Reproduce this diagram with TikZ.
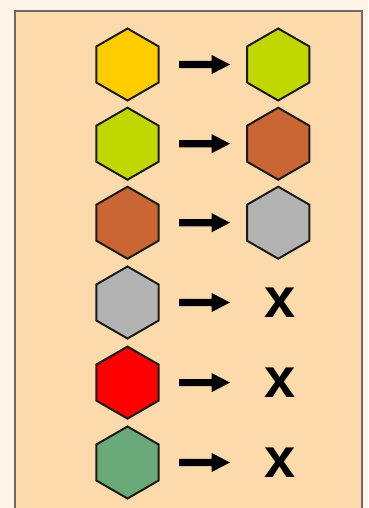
\documentclass[tikz,border=0pt]{standalone}
\usepackage{fontspec}
\setmainfont{Liberation Sans}
\usetikzlibrary{calc}
\definecolor{outerbg}{HTML}{FEF4E7}
\definecolor{panel}{HTML}{FDDAAB}
\definecolor{panelborder}{HTML}{6F6A66}
\definecolor{hexline}{HTML}{1A1A1A}
\definecolor{cyellow}{HTML}{FFCC00}
\definecolor{clime}{HTML}{C0D800}
\definecolor{cbrown}{HTML}{C96633}
\definecolor{cgray}{HTML}{B3B3B3}
\definecolor{cred}{HTML}{FF0000}
\definecolor{cgreen}{HTML}{69AA78}
\tikzset{
  hexa/.style={draw=hexline, line width=2pt, line join=miter, fill=#1},
  arrowfill/.style={fill=black},
  xmark/.style={inner sep=0pt, font=\fontsize{56}{56}\selectfont\bfseries}
}
\newcommand{\hexat}[2]{% name, colour
  \path[hexa=#2] ([shift={(90:36)}]#1) -- ([shift={(150:36)}]#1) -- ([shift={(210:36)}]#1)
   -- ([shift={(270:36)}]#1) -- ([shift={(330:36)}]#1) -- ([shift={(30:36)}]#1) -- cycle;}
\newcommand{\fatarrow}[2]{% from, to
  \fill[arrowfill] ($(#1)+(0,-3.6)$) -- ($(#2)+(-18.5,-3.6)$) -- ($(#2)+(-18.5,-9.6)$) -- (#2)
   -- ($(#2)+(-18.5,9.6)$) -- ($(#2)+(-18.5,3.6)$) -- ($(#1)+(0,3.6)$) -- cycle;}
\begin{document}
\begin{tikzpicture}[x=1pt,y=-1pt]
\useasboundingbox (0,0) rectangle (368,508);
\fill[outerbg] (0,0) rectangle (368,508);
\draw[panelborder, fill=panel, line width=1.2pt] (15,11) -- (15,520) -- (362,520) -- (362,11) -- cycle;
\foreach \i/\y/\cl/\cr in {1/64.5/cyellow/clime, 2/143.7/clime/cbrown, 3/222.7/cbrown/cgray}{
  \coordinate (L\i) at (127.5,\y);
  \coordinate (R\i) at (278.2,\y);
  \hexat{L\i}{\cl}
  \hexat{R\i}{\cr}
  \coordinate (A\i) at (179,\y);
  \coordinate (B\i) at (230,\y);
  \fatarrow{A\i}{B\i}
}
\foreach \i/\y/\cl in {4/302.5/cgray, 5/382.6/cred, 6/462.5/cgreen}{
  \coordinate (L\i) at (127.5,\y);
  \hexat{L\i}{\cl}
  \node[xmark] (R\i) at (280.5,\y) {x};
  \coordinate (A\i) at (179,\y);
  \coordinate (B\i) at (230,\y);
  \fatarrow{A\i}{B\i}
}
\end{tikzpicture}
\end{document}
